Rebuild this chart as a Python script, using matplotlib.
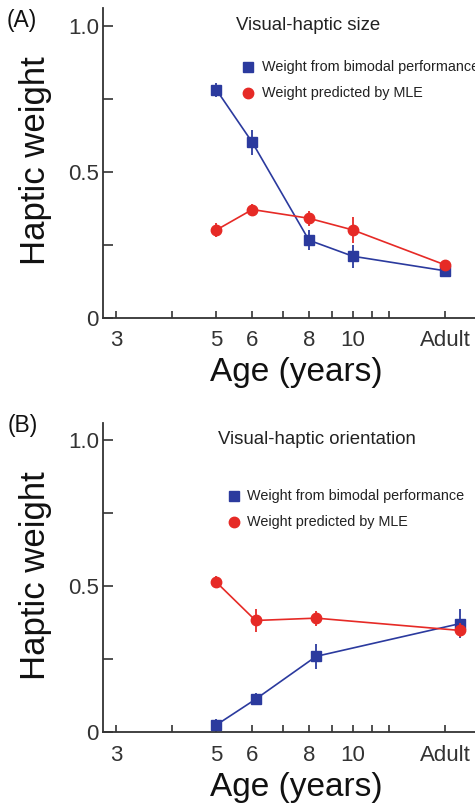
import numpy as np
import matplotlib.pyplot as plt
from matplotlib.ticker import FixedLocator, NullLocator

plt.rcParams['font.family'] = ['Liberation Sans', 'DejaVu Sans']

# visual-haptic size task
ages_size = [5, 6, 8, 10, 16]
bimodal_size = [0.78, 0.60, 0.265, 0.21, 0.16]
bimodal_size_err = [0.023, 0.043, 0.035, 0.04, 0.018]
mle_size = [0.30, 0.37, 0.34, 0.30, 0.18]
mle_size_err = [0.024, 0.02, 0.026, 0.043, 0.017]

# visual-haptic orientation task
ages_orient = [5, 6.1, 8.3, 17.2]
bimodal_orient = [0.025, 0.113, 0.26, 0.372]
bimodal_orient_err = [0.02, 0.02, 0.043, 0.05]
mle_orient = [0.514, 0.383, 0.391, 0.349]
mle_orient_err = [0.02, 0.038, 0.026, 0.024]

tick_ages = [3, 4, 5, 6, 7, 8, 9, 10, 11, 12, 16]
tick_names = ['3', '', '5', '6', '', '8', '', '10', '', '', 'Adult']
ytick_vals = [0, 0.25, 0.5, 0.75, 1.0]
ytick_names = ['0', '', '0.5', '', '1.0']

BLUE = '#2b3a9e'
RED = '#e62a26'
INK = '#333333'

fig = plt.figure(figsize=(4.75, 8.08), dpi=100)
ax_a = fig.add_axes([0.2168, 0.607, 0.7832, 0.383])
ax_b = fig.add_axes([0.2168, 0.0938, 0.7832, 0.3827])


def draw_panel(ax, ages, bim, bim_err, mle, mle_err, title, leg_pos):
    ax.errorbar(ages, bim, yerr=bim_err, color=BLUE, marker='s', ms=6.5,
                lw=1.2, elinewidth=1.3, capsize=0, zorder=3)
    ax.errorbar(ages, mle, yerr=mle_err, color=RED, marker='o', ms=7.5,
                lw=1.2, elinewidth=1.3, capsize=0, zorder=4)

    ax.set_xscale('log')
    ax.set_xlim(2.81, 18.6)
    ax.set_ylim(0, 1.06)
    ax.xaxis.set_major_locator(FixedLocator(tick_ages))
    ax.xaxis.set_minor_locator(NullLocator())
    ax.set_xticklabels(tick_names)
    ax.set_yticks(ytick_vals)
    ax.set_yticklabels(ytick_names)

    for side in ['top', 'right']:
        ax.spines[side].set_visible(False)
    for side in ['left', 'bottom']:
        ax.spines[side].set_color(INK)
        ax.spines[side].set_linewidth(1.3)
    ax.tick_params(axis='x', direction='in', length=5, width=1.2, color=INK,
                   labelsize=16, labelcolor=INK, pad=9)
    ax.tick_params(axis='y', direction='in', length=7, width=1.2, color=INK,
                   labelsize=16, labelcolor=INK, pad=3)

    ax.set_xlabel('Age (years)', fontsize=24, color='#111111')
    ax.xaxis.set_label_coords(0.519, -0.128)
    ax.set_ylabel('Haptic weight', fontsize=25, color='#111111')
    ax.yaxis.set_label_coords(-0.137, 0.506)

    ax.text(title[1], title[2], title[0], transform=ax.transAxes,
            ha='center', va='center', fontsize=13.4, color='#222222')

    # key drawn next to the curves
    mx, tx, y1, y2 = leg_pos
    ax.plot([mx], [y1], 's', color=BLUE, ms=6.5, transform=ax.transAxes,
            clip_on=False)
    ax.plot([mx], [y2], 'o', color=RED, ms=7.5, transform=ax.transAxes,
            clip_on=False)
    ax.text(tx, y1, 'Weight from bimodal performance', transform=ax.transAxes,
            ha='left', va='center', fontsize=10.4, color='#222222')
    ax.text(tx, y2, 'Weight predicted by MLE', transform=ax.transAxes,
            ha='left', va='center', fontsize=10.4, color='#222222')


draw_panel(ax_a, ages_size, bimodal_size, bimodal_size_err, mle_size,
           mle_size_err, ('Visual-haptic size', 0.551, 0.945),
           (0.39, 0.427, 0.81, 0.724))
draw_panel(ax_b, ages_orient, bimodal_orient, bimodal_orient_err, mle_orient,
           mle_orient_err, ('Visual-haptic orientation', 0.575, 0.948),
           (0.352, 0.387, 0.765, 0.681))

fig.text(0.015, 0.975, '(A)', ha='left', va='center', fontsize=16.5,
         color='#111111')
fig.text(0.017, 0.474, '(B)', ha='left', va='center', fontsize=16.5,
         color='#111111')

fig.savefig('out.png', dpi=100)
